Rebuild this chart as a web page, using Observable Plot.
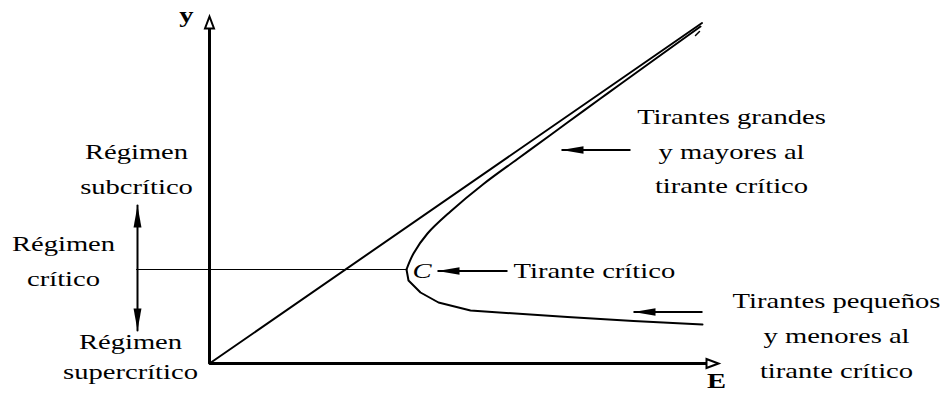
<!DOCTYPE html>
<html>
<head>
<meta charset="utf-8">
<script src="https://cdn.jsdelivr.net/npm/d3@7"></script>
<script src="https://cdn.jsdelivr.net/npm/@observablehq/plot@0.6"></script>
<style>
  html, body { margin: 0; padding: 0; background: #fff; }
</style>
</head>
<body>
<div id="chart"></div>
<script>
// ---- Data (in chart units: E horizontal, y vertical) ----
const axisE = [0, 0, 9.94];
const axisY = [6.70, 0, 0];

const lineE = [0, 9.85];          // straight reference line (E = y asymptote)
const lineY = [0, 6.81];

const critE = 3.94, critY = 1.88; // critical point C

const upperE = [3.94, 4.08, 4.36, 4.82, 5.48, 6.16, 6.82, 7.16, 7.82, 8.18, 9.82];
const upperY = [1.88, 2.20, 2.60, 3.04, 3.59, 4.09, 4.57, 4.82, 5.30, 5.56, 6.74];

const lowerE = [3.94, 3.98, 4.22, 4.58, 5.22, 7.16, 8.48, 9.86];
const lowerY = [1.88, 1.66, 1.42, 1.22, 1.06, 0.93, 0.85, 0.78];

const tailE = [9.72, 9.80];
const tailY = [6.56, 6.64];

const critLineE = [-1.46, 3.94];

const regimeArrowE = -1.44;
const regimeArrowY = [3.16, 0.66];

// left-pointing annotation arrows: [tip E, tail E, y]
const arrowTipE  = [4.56, 7.04, 8.48];
const arrowTailE = [5.96, 8.42, 9.86];
const arrowY     = [1.85, 4.27, 1.03];

// labels
const labelText = [
  "Tirantes grandes", "y mayores al", "tirante crítico",
  "Tirantes pequeños", "y menores al", "tirante crítico",
  "Régimen", "subcrítico",
  "Régimen", "crítico",
  "Régimen", "supercrítico"
];
const labelE = [10.44, 10.44, 10.44, 12.54, 12.54, 12.54, -1.46, -1.46, -2.92, -2.92, -1.58, -1.58];
const labelY = [4.80, 4.10, 3.42, 1.12, 0.42, -0.28, 4.10, 3.40, 2.26, 1.56, 0.30, -0.30];

const critLabel = "Tirante crítico";
const critLabelE = 6.08, critLabelY = 1.72;
const cLabel = "C", cLabelE = 4.25, cLabelY = 1.72;
const yAxisLabel = "y", yAxisLabelE = -0.46, yAxisLabelY = 6.84;
const eAxisLabel = "E", eAxisLabelE = 10.14, eAxisLabelY = -0.49;

// ---- helpers ----
const pts = (xs, ys) => xs.map((x, i) => ({E: x, y: ys[i]}));
function head(dx, dy, ratio) {
  return {
    draw(ctx, size) {
      const L = Math.sqrt(size / Math.PI), W = L * ratio / 2;
      const bx = -dx * L, by = -dy * L;
      const px = -dy * W, py = dx * W;
      ctx.moveTo(0, 0);
      ctx.lineTo(bx + px, by + py);
      ctx.lineTo(bx - px, by - py);
      ctx.closePath();
    }
  };
}
const FONT = "'Liberation Serif', 'Times New Roman', serif";

const arrows = arrowTipE.map((t, i) => ({tip: t, tail: arrowTailE[i], y: arrowY[i]}));
const labels = labelText.map((t, i) => ({t, E: labelE[i], y: labelY[i]}));

const chart = Plot.plot({
  width: 943,
  height: 393,
  marginLeft: 209,
  marginRight: 234,
  marginTop: 13,
  marginBottom: 30,
  x: {domain: [0, 10], axis: null},
  y: {domain: [0, 7], axis: null},
  style: {background: "white", overflow: "visible"},
  marks: [
    // critical depth horizontal line
    Plot.line(pts(critLineE, [critY, critY]), {x: "E", y: "y", stroke: "black", strokeWidth: 1.1}),
    // straight line
    Plot.line(pts(lineE, lineY), {x: "E", y: "y", stroke: "black", strokeWidth: 2}),
    // specific energy curve
    Plot.line(pts(upperE, upperY), {x: "E", y: "y", stroke: "black", strokeWidth: 2, curve: "catmull-rom"}),
    Plot.line(pts(lowerE, lowerY), {x: "E", y: "y", stroke: "black", strokeWidth: 2, curve: "linear"}),
    Plot.line(pts(tailE, tailY), {x: "E", y: "y", stroke: "black", strokeWidth: 1.5}),
    // axes
    Plot.line(pts(axisE, axisY), {x: "E", y: "y", stroke: "black", strokeWidth: 3, strokeLinejoin: "miter", strokeLinecap: "square"}),
    Plot.dot([{E: 0, y: 6.94}], {x: "E", y: "y", r: 12, symbol: head(0, -1, 0.75), fill: "white", stroke: "black", strokeWidth: 2}),
    Plot.dot([{E: 10.18, y: 0}], {x: "E", y: "y", r: 12, symbol: head(1, 0, 0.75), fill: "white", stroke: "black", strokeWidth: 2}),
    // regime double arrow
    Plot.line(pts([regimeArrowE, regimeArrowE], regimeArrowY), {x: "E", y: "y", stroke: "black", strokeWidth: 2}),
    Plot.dot([{E: regimeArrowE, y: regimeArrowY[0]}], {x: "E", y: "y", r: 22, symbol: head(0, -1, 0.36), fill: "black", stroke: "none"}),
    Plot.dot([{E: regimeArrowE, y: regimeArrowY[1]}], {x: "E", y: "y", r: 22, symbol: head(0, 1, 0.36), fill: "black", stroke: "none"}),
    // left-pointing arrows
    Plot.link(arrows, {x1: "tip", x2: "tail", y1: "y", y2: "y", stroke: "black", strokeWidth: 2}),
    Plot.dot(arrows, {x: "tip", y: "y", r: 22, symbol: head(-1, 0, 0.34), fill: "black", stroke: "none"}),
    // labels
    Plot.text(labels, {x: "E", y: "y", text: "t", fontSize: 22, fontFamily: FONT, textAnchor: "middle", lineAnchor: "bottom", fill: "black"}),
    Plot.text([{E: critLabelE, y: critLabelY}], {x: "E", y: "y", text: () => critLabel, fontSize: 22, fontFamily: FONT, textAnchor: "start", lineAnchor: "bottom", fill: "black"}),
    Plot.text([{E: cLabelE, y: cLabelY}], {x: "E", y: "y", text: () => cLabel, fontSize: 22, fontFamily: FONT, fontStyle: "italic", textAnchor: "middle", lineAnchor: "bottom", fill: "black"}),
    Plot.text([{E: yAxisLabelE, y: yAxisLabelY}], {x: "E", y: "y", text: () => yAxisLabel, fontSize: 22, fontFamily: FONT, fontWeight: "bold", textAnchor: "middle", lineAnchor: "bottom", fill: "black"}),
    Plot.text([{E: eAxisLabelE, y: eAxisLabelY}], {x: "E", y: "y", text: () => eAxisLabel, fontSize: 22, fontFamily: FONT, fontWeight: "bold", textAnchor: "middle", lineAnchor: "bottom", fill: "black"})
  ]
});

// horizontal stretch of the serif lettering, as in the reference
const STRETCH = 1.3;
chart.querySelectorAll("text").forEach(t => {
  const tr = t.getAttribute("transform") || "";
  const x = parseFloat(t.getAttribute("x")) || 0;
  t.setAttribute("transform", `${tr} translate(${x},0) scale(${STRETCH},1) translate(${-x},0)`);
});

document.getElementById("chart").appendChild(chart);
</script>
</body>
</html>
